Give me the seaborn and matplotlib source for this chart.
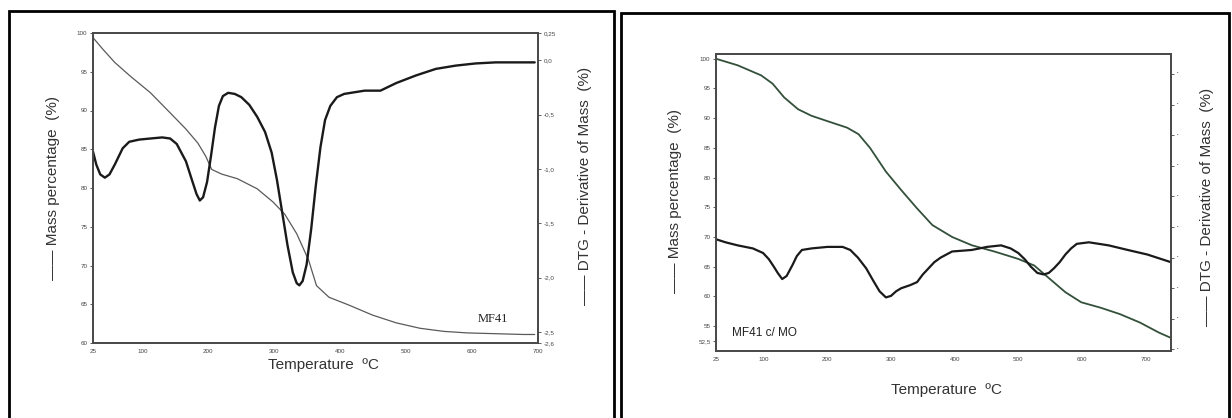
import matplotlib
matplotlib.use("Agg")
import matplotlib.pyplot as plt
import matplotlib.patches as patches
from matplotlib.ticker import MultipleLocator
import seaborn as sns

# --- MF41 (left panel) ---
mf41_mass_t = [25, 40, 58, 82, 112, 142, 166, 184, 196, 205, 220, 244, 274, 298,
               316, 334, 352, 364, 383, 413, 449, 485, 521, 557, 593, 636, 678, 695]
mf41_mass = [99.4, 97.9, 96.2, 94.4, 92.3, 89.7, 87.6, 85.8, 84.1, 82.4, 81.8, 81.2, 79.9, 78.2,
             76.6, 74.1, 70.7, 67.4, 65.9, 64.9, 63.6, 62.6, 61.9, 61.5, 61.3, 61.2, 61.1, 61.1]

mf41_dtg_t = [25, 30, 36, 43, 50, 58, 70, 80, 95, 112, 130, 142, 152, 166, 175, 182, 187, 192,
              198, 204, 210, 216, 222, 230, 240, 250, 262, 274, 286, 296, 304, 312, 320, 328,
              334, 338, 343, 349, 356, 363, 370, 377, 385, 395, 406, 437, 461, 485, 515, 545,
              575, 605, 636, 695]
mf41_dtg = [-0.84, -0.96, -1.05, -1.08, -1.05, -0.96, -0.81, -0.75, -0.73, -0.72, -0.71, -0.72,
            -0.77, -0.93, -1.10, -1.23, -1.29, -1.26, -1.12, -0.88, -0.62, -0.42, -0.33, -0.30,
            -0.31, -0.34, -0.41, -0.52, -0.66, -0.85, -1.10, -1.40, -1.70, -1.95, -2.05, -2.07,
            -2.03, -1.88, -1.55, -1.15, -0.80, -0.55, -0.42, -0.34, -0.31, -0.28, -0.28, -0.21,
            -0.14, -0.08, -0.05, -0.03, -0.02, -0.02]

# --- MF41 c/ MO (right panel) ---
mo_mass_t = [25, 59, 96, 114, 132, 154, 175, 200, 231, 249, 267, 292, 316, 341, 365, 396,
             427, 464, 500, 525, 550, 574, 599, 629, 660, 691, 721, 740]
mo_mass = [100.0, 98.9, 97.2, 95.8, 93.5, 91.5, 90.4, 89.5, 88.4, 87.3, 85.0, 81.0, 77.9, 74.8,
           72.0, 70.0, 68.6, 67.5, 66.3, 65.2, 62.9, 60.7, 59.0, 58.1, 57.0, 55.6, 53.9, 53.0]

mo_dtg_t = [25, 40, 59, 83, 99, 108, 116, 122, 129, 136, 145, 152, 160, 175, 200, 224, 236,
            248, 261, 272, 282, 292, 300, 308, 316, 330, 341, 350, 359, 368, 378, 396, 427,
            451, 473, 488, 500, 510, 520, 530, 540, 548, 556, 565, 574, 583, 592, 611, 642,
            672, 703, 740]
mo_dtg = [-0.108, -0.110, -0.112, -0.114, -0.117, -0.121, -0.126, -0.130, -0.134, -0.132,
          -0.125, -0.119, -0.115, -0.114, -0.113, -0.113, -0.115, -0.120, -0.127, -0.135,
          -0.142, -0.146, -0.145, -0.142, -0.140, -0.138, -0.136, -0.131, -0.127, -0.123,
          -0.120, -0.116, -0.115, -0.113, -0.112, -0.114, -0.117, -0.121, -0.126, -0.130,
          -0.131, -0.130, -0.127, -0.123, -0.118, -0.114, -0.111, -0.110, -0.112, -0.115,
          -0.118, -0.123]

x_ticks = [25, 100, 200, 300, 400, 500, 600, 700]
mf41_mass_ticks = [60, 65, 70, 75, 80, 85, 90, 95, 100]
mf41_dtg_ticks = [0.25, 0.0, -0.5, -1.0, -1.5, -2.0, -2.5, -2.6]
mf41_dtg_labels = ["0,25", "0,0", "-0,5", "-1,0", "-1,5", "-2,0", "-2,5", "-2,6"]
mo_mass_ticks = [52.5, 55, 60, 65, 70, 75, 80, 85, 90, 95, 100]
mo_mass_labels = ["52,5", "55", "60", "65", "70", "75", "80", "85", "90", "95", "100"]
mo_dtg_ticks = [0.0, -0.02, -0.04, -0.06, -0.08, -0.10, -0.12, -0.14, -0.16, -0.18]

sns.set_style("white")
plt.rcParams['font.family'] = ['Liberation Sans', 'DejaVu Sans']

fig = plt.figure(figsize=(12.32, 4.18), dpi=100)

# table cell borders
for x0, x1, y1 in [(9, 614, 11), (621, 1229, 13)]:
    fig.patches.append(patches.Rectangle((x0 / 1232, -0.05), (x1 - x0) / 1232, 1.05 - y1 / 418,
                                         transform=fig.transFigure, fill=False,
                                         edgecolor='black', linewidth=2))

spine_col = '#4a4a4a'


def style_axes(ax):
    for s in ax.spines.values():
        s.set_color(spine_col)
        s.set_linewidth(1.3)
    ax.tick_params(axis='both', direction='out', length=2, width=0.6,
                   labelsize=4.5, colors='#444444', pad=2)


# left panel
ax1 = fig.add_axes([93 / 1232, 1 - 343 / 418, 445 / 1232, 310 / 418])
ax1b = ax1.twinx()
sns.lineplot(x=mf41_mass_t, y=mf41_mass, ax=ax1, color='#5a5a5a', linewidth=0.9)
sns.lineplot(x=mf41_dtg_t, y=mf41_dtg, ax=ax1b, color='#1a1a1a', linewidth=1.7)
ax1.set_xlim(25, 700)
ax1.set_ylim(60, 100)
ax1b.set_ylim(-2.6, 0.25)
ax1.set_xticks(x_ticks)
ax1.set_yticks(mf41_mass_ticks)
ax1b.set_yticks(mf41_dtg_ticks)
ax1b.set_yticklabels(mf41_dtg_labels)
for a in (ax1, ax1b):
    style_axes(a)
    a.set_xlabel('')
    a.set_ylabel('')
ax1.text(632, 62.3, 'MF41', family='Liberation Serif', fontsize=9, color='#222222',
         ha='center', va='bottom')

# right panel
ax2 = fig.add_axes([716 / 1232, 1 - 351 / 418, 455 / 1232, 297 / 418])
ax2b = ax2.twinx()
sns.lineplot(x=mo_mass_t, y=mo_mass, ax=ax2, color='#33503a', linewidth=1.3)
sns.lineplot(x=mo_dtg_t, y=mo_dtg, ax=ax2b, color='#1a1a1a', linewidth=1.6)
ax2.set_xlim(25, 740)
ax2.set_ylim(50.8, 100.8)
ax2b.set_ylim(-0.181, 0.013)
ax2.set_xticks(x_ticks)
ax2.xaxis.set_minor_locator(MultipleLocator(25))
ax2.set_yticks(mo_mass_ticks)
ax2.set_yticklabels(mo_mass_labels)
ax2b.set_yticks(mo_dtg_ticks)
ax2b.set_yticklabels(['•'] * len(mo_dtg_ticks))
for a in (ax2, ax2b):
    style_axes(a)
    a.set_xlabel('')
    a.set_ylabel('')
ax2.tick_params(axis='x', which='minor', length=1.5, width=0.5, colors='#888888')
ax2b.tick_params(axis='y', labelsize=3)
ax2.text(50, 53.9, 'MF41 c/ MO', fontsize=8.5, color='#222222', ha='left', va='center')

# axis titles
lab = dict(fontsize=11, color='#333333', rotation=90, ha='center', va='center')
fig.text(53 / 1232, 0.55, '—— Mass percentage  (%)', **lab)
fig.text(585 / 1232, 0.555, '—— DTG - Derivative of Mass  (%)', **lab)
fig.text(675 / 1232, 0.52, '—— Mass percentage  (%)', **lab)
fig.text(1207 / 1232, 0.505, '—— DTG - Derivative of Mass  (%)', **lab)
fig.text(324 / 1232, 1 - 365 / 418, 'Temperature  ºC', fontsize=11, color='#333333',
         ha='center', va='center')
fig.text(946 / 1232, 1 - 390 / 418, 'Temperature  ºC', fontsize=11, color='#333333',
         ha='center', va='center')

fig.savefig('out.png', dpi=100)
